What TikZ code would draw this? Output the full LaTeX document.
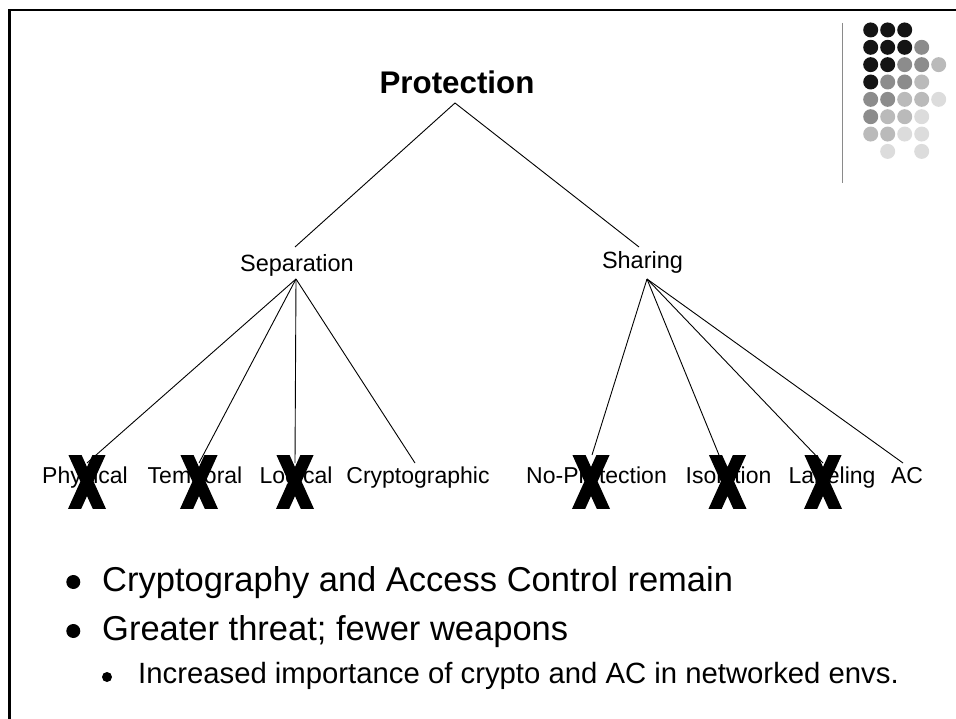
\documentclass[tikz,border=0pt]{standalone}
\usepackage{fontspec}
\setmainfont{Liberation Sans}
\definecolor{dotA}{HTML}{141414}
\definecolor{dotB}{HTML}{8C8C8C}
\definecolor{dotC}{HTML}{BABABA}
\definecolor{dotD}{HTML}{DCDCDC}
\definecolor{rulegray}{HTML}{8A8A8A}
\begin{document}
\begin{tikzpicture}[x=1bp,y=-1bp,
  lbl/.style={inner sep=0pt,anchor=base},
  toplbl/.style={lbl,font=\fontsize{31.3bp}{36bp}\selectfont\bfseries},
  midlbl/.style={lbl,font=\fontsize{23.5bp}{28bp}\selectfont},
  leaflbl/.style={lbl,font=\fontsize{23bp}{27bp}\selectfont},
  bullettext/.style={inner sep=0pt,anchor=base west,font=\fontsize{34.5bp}{40bp}\selectfont},
  subbullettext/.style={inner sep=0pt,anchor=base west,font=\fontsize{29.3bp}{34bp}\selectfont},
  edge/.style={line width=0.9bp},
  dot/.style={circle,inner sep=0pt,minimum size=15bp},
  crossmark/.pic={
    \begin{scope}
      \clip (-30,-26.5) rectangle (30,26.5);
      \draw[line width=12bp] (-14.4,-31.8) -- (14.4,31.8)
                             (-14.4,31.8) -- (14.4,-31.8);
    \end{scope}
  }]
\useasboundingbox (0,0) rectangle (956,719);

% slide frame
\draw[line width=2.6bp] (9.3,722) -- (9.3,10.2) -- (960,10.2);

% decorative dot grid with its rule
\draw[rulegray,line width=1.4bp] (842.7,23) -- (842.7,183);
\foreach \c/\r/\col in {
  1/1/dotA,2/1/dotA,3/1/dotA,
  1/2/dotA,2/2/dotA,3/2/dotA,4/2/dotB,
  1/3/dotA,2/3/dotA,3/3/dotB,4/3/dotB,5/3/dotC,
  1/4/dotA,2/4/dotB,3/4/dotB,4/4/dotC,
  1/5/dotB,2/5/dotB,3/5/dotC,4/5/dotC,5/5/dotD,
  1/6/dotB,2/6/dotC,3/6/dotC,4/6/dotD,
  1/7/dotC,2/7/dotC,3/7/dotD,4/7/dotD,
  2/8/dotD,4/8/dotD}
  \node[dot,fill=\col] (dot-\c-\r) at ({853.7+17*\c},{12.6+17.35*\r}) {};

% tree labels
\node[toplbl] (prot) at (457,94) {Protection};
\node[midlbl] (sep) at (297,271) {Separation};
\node[midlbl] (shar) at (642.5,268.5) {Sharing};

\node[leaflbl] (phys) at (85,483) {Physical};
\node[leaflbl] (temp) at (195,483) {Temporal};
\node[leaflbl] (logi) at (296,483) {Logical};
\node[leaflbl] (cryp) at (418,483) {Cryptographic};
\node[leaflbl] (noprot) at (596.5,483) {No-Protection};
\node[leaflbl] (isol) at (728.5,483) {Isolation};
\node[leaflbl] (label) at (832,483) {Labeling};
\node[leaflbl] (ac) at (907,483) {AC};

% connector end points
\coordinate (protB) at (455,103);
\coordinate (sepT) at (295,247);
\coordinate (sharT) at (639,247);
\coordinate (sepB) at (296,279);
\coordinate (sharB) at (647,279);
\coordinate (physT) at (87,463);
\coordinate (tempT) at (199,463);
\coordinate (logiT) at (295,463);
\coordinate (crypT) at (415,463);
\coordinate (noprotT) at (592,455);
\coordinate (isolT) at (719,455);
\coordinate (labelT) at (823,463);
\coordinate (acT) at (903,463);

\draw[edge] (sepT) -- (protB) -- (sharT);
\foreach \t in {physT,tempT,logiT,crypT} \draw[edge] (sepB) -- (\t);
\foreach \t in {noprotT,isolT,labelT,acT} \draw[edge] (sharB) -- (\t);

% crossed-out branches
\pic at (87,481.5) {crossmark};
\pic at (199,481.5) {crossmark};
\pic at (295,481.5) {crossmark};
\pic at (591,481.5) {crossmark};
\pic at (727.5,481.5) {crossmark};
\pic at (823,481.5) {crossmark};

% bullet list
\fill (73.3,582) circle (7bp);
\node[bullettext] (b1) at (102,591) {Cryptography and Access Control remain};
\fill (73.3,631) circle (7bp);
\node[bullettext] (b2) at (102,640) {Greater threat; fewer weapons};
\fill (107,677) circle (5bp);
\node[subbullettext] (b3) at (138,683) {Increased importance of crypto and AC in networked envs.};
\end{tikzpicture}
\end{document}
